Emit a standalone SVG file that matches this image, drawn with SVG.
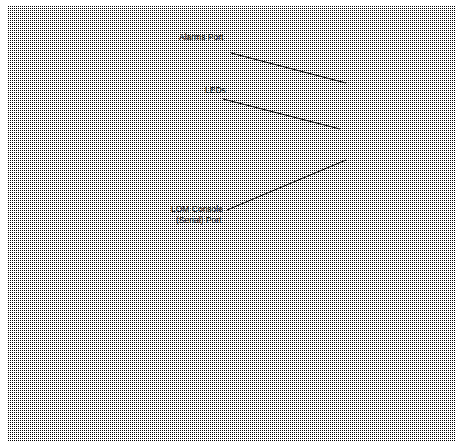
<svg xmlns="http://www.w3.org/2000/svg" width="462" height="448" viewBox="0 0 462 448">
<defs>
<pattern id="dots" x="0" y="0" width="2" height="2" patternUnits="userSpaceOnUse">
<rect x="0" y="0" width="1" height="1" fill="#000"/>
</pattern>
<style>
.lbl{font-family:"Liberation Sans",Arial,sans-serif;font-size:8.5px;fill:#000;}
.ln{stroke:#000;stroke-width:1;fill:none;}
</style>
</defs>
<rect width="462" height="448" fill="#fff"/>
<rect x="7" y="5" width="448" height="437" fill="url(#dots)"/>
<g id="connectors">
<line class="ln" x1="231" y1="53" x2="346" y2="83"/>
<line class="ln" x1="223" y1="99" x2="340" y2="129"/>
<line class="ln" x1="227" y1="210" x2="346" y2="160"/>
</g>
<g id="alarms"><text class="lbl" x="179" y="40">Alarms Port</text></g>
<g id="leds"><text class="lbl" x="205" y="93">LEDs</text></g>
<g id="lom"><text class="lbl" x="171" y="212">LOM Console</text><text class="lbl" x="176" y="223">(Serial) Port</text></g>
</svg>
